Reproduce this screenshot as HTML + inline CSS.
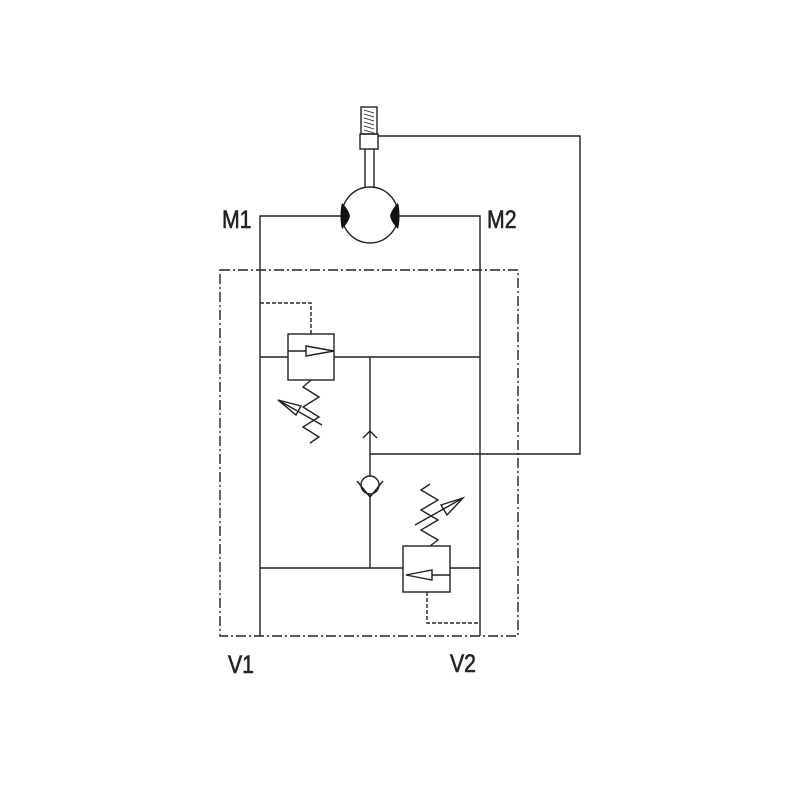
<!DOCTYPE html>
<html><head><style>body{margin:0;background:#fff}svg{display:block}</style></head>
<body>
<svg width="800" height="800" viewBox="0 0 800 800" xmlns="http://www.w3.org/2000/svg">
<g fill="none" stroke="#222" stroke-width="1.4">
<rect x="220" y="270" width="298" height="366" stroke-dasharray="10,3,2,3"/>
<polyline points="260,636 260,216 342,216"/>
<polyline points="398,216 480,216 480,636"/>
<circle cx="370" cy="215" r="28" fill="#fff"/>
<line x1="365" y1="188" x2="365" y2="149"/>
<line x1="374" y1="188" x2="374" y2="149"/>
<rect x="360" y="134" width="18" height="15" fill="#fff"/>
<rect x="361" y="107" width="16" height="27"/>
<path d="M364 110 L374 113 M364 114 L374 117 M364 118 L374 121 M364 122 L374 125 M364 126 L374 129 M364 130 L374 133" stroke-width="0.8"/>
<polyline points="378,136 580,136 580,454 370,454"/>
<line x1="260" y1="357" x2="288" y2="357"/>
<line x1="334" y1="357" x2="480" y2="357"/>
<rect x="288" y="334" width="46" height="46"/>
<line x1="288" y1="351" x2="306" y2="351"/>
<polygon points="306,346 334,351 306,356"/>
<polyline points="260,303 311,303 311,334" stroke-dasharray="4,2"/>
<polyline points="311,380 303,387 319,397 303,407 319,417 303,427 319,437 310,443"/>
<line x1="278" y1="400" x2="322" y2="425"/>
<polygon points="278,400 301,406 296,415"/>
<line x1="370" y1="357" x2="370" y2="568"/>
<polyline points="363,438 370,431 377,438"/>
<circle cx="370" cy="485" r="9" fill="#fff"/>
<polyline points="357,481 370,497 383,481"/>
<line x1="260" y1="568" x2="403" y2="568"/>
<line x1="450" y1="568" x2="480" y2="568"/>
<rect x="403" y="546" width="47" height="46"/>
<line x1="432" y1="575" x2="450" y2="575"/>
<polygon points="406,575 432,570 432,580"/>
<polyline points="427,592 427,623 478,623" stroke-dasharray="4,2"/>
<polyline points="430,546 438,540 421,530 438,520 421,510 438,500 421,490 430,484"/>
<line x1="415" y1="525" x2="463" y2="498"/>
<polygon points="463,498 447,515 441,505"/>
</g>
<path d="M342,203 C347,208 349,212 350,216 C349,220 347,224 342,229 C340,222 340,210 342,203Z" fill="#111"/>
<path d="M398,203 C393,208 391,212 390,216 C391,220 393,224 398,229 C400,222 400,210 398,203Z" fill="#111"/>
<g font-family="Liberation Sans, sans-serif" font-size="25" fill="#222" stroke="#222" stroke-width="0.6">
<text x="222" y="228" transform="translate(222 228) scale(0.85 1) translate(-222 -228)">M1</text>
<text x="487" y="228" transform="translate(487 228) scale(0.85 1) translate(-487 -228)">M2</text>
<text x="228" y="673" transform="translate(228 673) scale(0.85 1) translate(-228 -673)">V1</text>
<text x="450" y="672" transform="translate(450 672) scale(0.85 1) translate(-450 -672)">V2</text>
</g>
</svg>
</body></html>
